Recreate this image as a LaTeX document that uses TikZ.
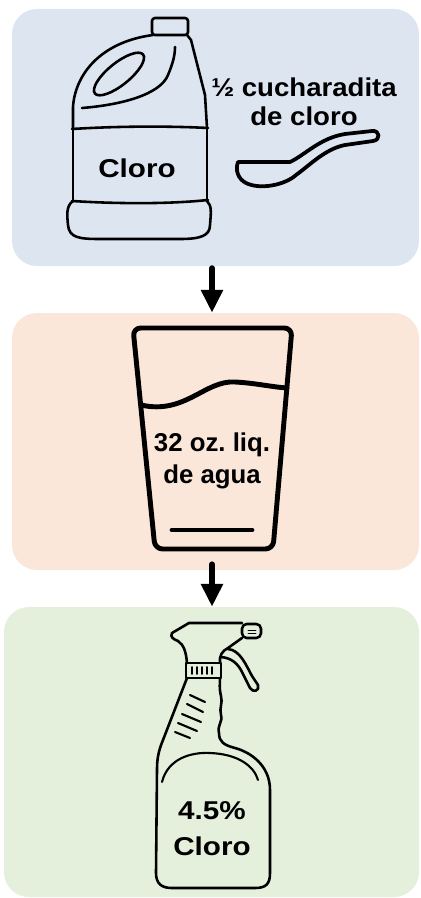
\documentclass[tikz,border=0pt]{standalone}
\usepackage{fontspec}
\setmainfont{Liberation Sans}
\newfontfamily\widesans{Liberation Sans}[FakeStretch=1.15]
\newfontfamily\midsans{Liberation Sans}[FakeStretch=1.07]
\usetikzlibrary{arrows.meta,fit}
\definecolor{bluebg}{RGB}{221,229,241}
\definecolor{peachbg}{RGB}{251,230,218}
\definecolor{greenbg}{RGB}{228,239,220}
\frenchspacing
\begin{document}
\begin{tikzpicture}[x=0.03cm, y=-0.03cm, line join=round, line cap=round] % 1 unit = 1 px, y down
\tikzstyle{panel} = [rounded corners=0.75cm, inner sep=0pt, draw=none] % background of a step
\tikzstyle{flow} = [line width=5.1pt, -{Triangle[length=19.6pt, width=17.9pt]}] % arrow between steps
\tikzstyle{thinline} = [line width=2.2pt] % jug and sprayer outlines
\tikzstyle{spoonline} = [line width=3.2pt]
\tikzstyle{thickline} = [line width=4.2pt] % glass outline
\tikzstyle{inscr} = [font=\bfseries\fontsize{22}{24}\selectfont, align=center, inner sep=0pt, anchor=base] % base = last line

\useasboundingbox (0,0) rectangle (420,898);

% фоны этапов
\node[panel, fill=bluebg, fit={(12,9) (419,266)}] (bleach) {};
\node[panel, fill=peachbg, fit={(12,313) (419,570)}] (water) {};
\node[panel, fill=greenbg, fit={(4,607) (419,897)}] (spray) {};
\coordinate (axis) at (212,0);

% стрелки
\draw[flow, shorten <=1.7pt] (bleach.south -| axis) -- (water.north -| axis);
\draw[flow, shorten <=-5pt] (water.south -| axis) -- (spray.north -| axis);

% канистра
\draw[thinline, rounded corners=2.5pt] (152,35) rectangle (188,18); % cap
\draw[thinline] (73,128) -- (73,107) .. controls (75,75) and (100,42) .. (153,35);
\draw[thinline] (187,35) -- (191,40) -- (205,95) -- (207,128);
\draw[thinline] (72,129) .. controls (120,126) and (170,126) .. (208,128);
\draw[thinline] (73,128) -- (73,201);
\draw[thinline] (207,128) -- (207,201);
\draw[thinline] (72,201) .. controls (120,204) and (170,204) .. (208,200);
\draw[thinline] (73,201) .. controls (66,206) and (67,215) .. (68,225)
  .. controls (69,238) and (80,239) .. (100,239) -- (180,239)
  .. controls (200,239) and (210,236) .. (210,225)
  .. controls (211,212) and (212,206) .. (207,201);
\draw[thinline, rotate around={39:(119,74)}] (119,74) ellipse (31 and 11); % handle hole
\draw[thinline] (82,108) .. controls (120,105) and (160,95) .. (168,75)
  .. controls (173,63) and (175,55) .. (175,47);
\node[inscr, font=\widesans\bfseries\fontsize{22}{24}\selectfont] (jugtext) at (137,177) {Cloro};

% ложка
\draw[spoonline] (238,162) -- (290,162) .. controls (305,155) and (320,138) .. (345,134)
  -- (372,131) .. controls (380,130) and (381,140) .. (373,141) -- (345,145)
  .. controls (325,149) and (310,165) .. (296,175)
  .. controls (285,185) and (260,190) .. (246,183)
  .. controls (238,179) and (235,170) .. (238,162) -- cycle;
\node[inscr, font=\midsans\bfseries\fontsize{22}{24}\selectfont] (dose) at (304,125) {½ cucharadita\\de cloro};

% стакан
\draw[thickline, rounded corners=6.5pt] (133,328) -- (292,328) -- (273,549) -- (155,549) -- cycle;
\draw[thickline] (141,405) .. controls (185,415) and (205,380) .. (235,382)
  .. controls (255,383) and (272,387) .. (287,388); % water level
\draw[thickline] (172,530) -- (252,530);
\node[inscr, font=\bfseries\fontsize{22}{26.5}\selectfont] (glasstext) at (212,483) {32 oz. liq.\\de agua};

% пульверизатор
\draw[thinline] (242,623) -- (189,623) -- (172,633) .. controls (170,637) and (173,639) .. (178,641)
  .. controls (184,645) and (186,652) .. (187,663);
\draw[thinline] (242,638) -- (228,648) .. controls (222,651) and (219,656) .. (220,663);
\draw[thinline, rounded corners=4pt] (242,624) rectangle (261,638); % nozzle
\draw[line width=0.8pt] (248,630) -- (256,630) (248,633.5) -- (256,633.5);
\draw[thinline] (228,649) .. controls (240,650) and (246,665) .. (252,676) -- (258,685)
  .. controls (260,691) and (253,693) .. (250,688) -- (242,672)
  .. controls (238,664) and (232,658) .. (221,657); % trigger
\draw[thinline] (186,663) rectangle (221,678); % collar
\foreach \x in {192,197,202,207,212}
  \draw[line width=1.6pt] (\x,667) -- (\x,674);
\draw[thinline] (187,678) -- (163,740) .. controls (158,752) and (157,760) .. (157,770) -- (156,873)
  .. controls (156,884) and (162,888) .. (172,888) -- (255,888)
  .. controls (266,888) and (270,884) .. (270,873) -- (270,790)
  .. controls (270,765) and (250,752) .. (235,748)
  .. controls (224,745) and (219,742) .. (219,733)
  .. controls (217,725) and (223,722) .. (221,715)
  .. controls (219,708) and (223,703) .. (221,696)
  .. controls (219,688) and (220,684) .. (220,678);
\foreach \a/\b in {{190,695}/{205,702},{187,704}/{203,712},{182,714}/{201,722},{178,723}/{197,731},{175,732}/{190,738}}
  \draw[line width=1.8pt] (\a) -- (\b);
\draw[line width=1.8pt] (162,782) .. controls (168,758) and (192,752) .. (210,753)
  .. controls (238,754) and (254,766) .. (258,780); % label edge
\node[inscr, font=\widesans\bfseries\fontsize{22}{30}\selectfont] (spraytext) at (212,855) {4.5\%\\Cloro};
\end{tikzpicture}
\end{document}
